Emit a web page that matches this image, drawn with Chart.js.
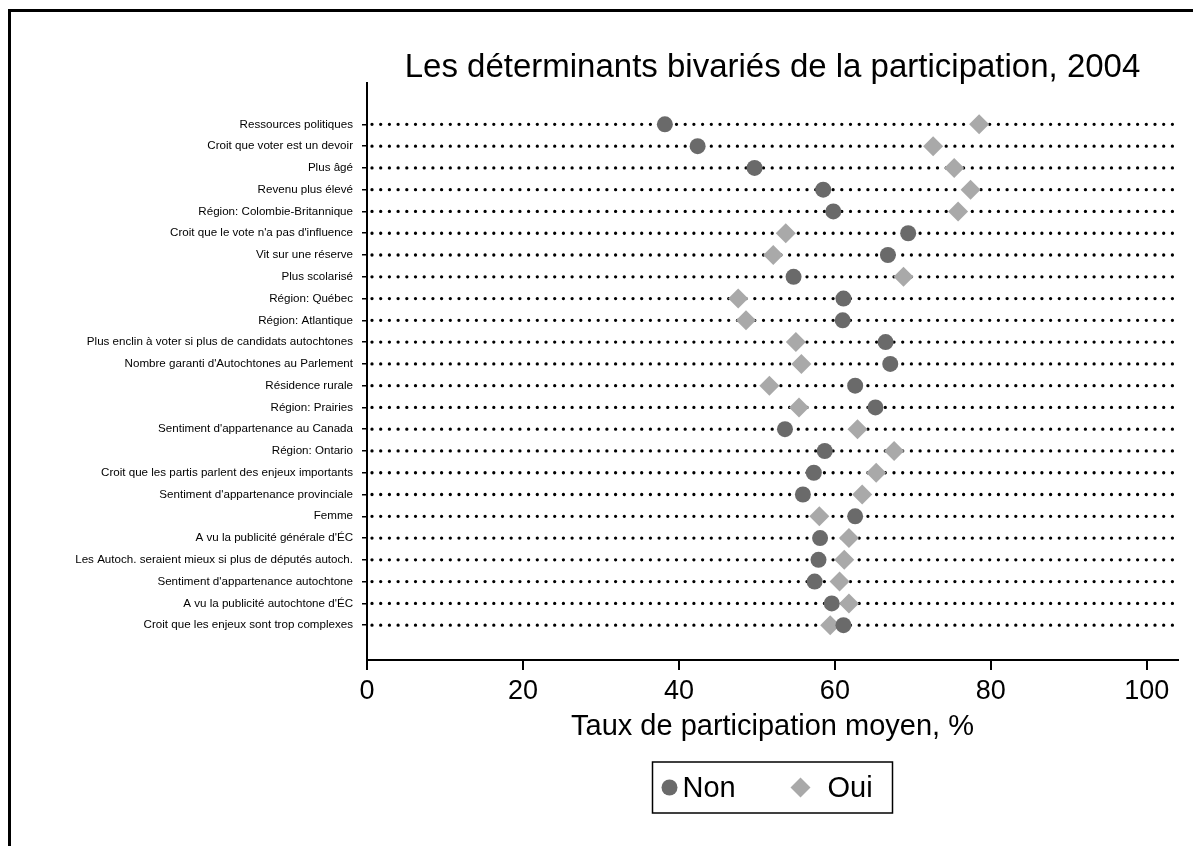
<!DOCTYPE html>
<html>
<head>
<meta charset="utf-8">
<script src="https://cdn.jsdelivr.net/npm/chart.js@4.4.0/dist/chart.umd.min.js"></script>
<style>
  html, body { margin: 0; padding: 0; background: #fff; }
  #wrap { position: relative; width: 1193px; height: 846px; overflow: hidden; }
  #frame { position: absolute; left: 8px; top: 9px; right: -10px; bottom: -10px; border-left: 3px solid #000; border-top: 3px solid #000; pointer-events: none; }
  canvas { position: absolute; left: 0; top: 0; }
</style>
</head>
<body>
<div id="wrap">
  <canvas id="dotChart" width="1193" height="846"></canvas>
  <div id="frame"></div>
</div>
<script>
// Chart data
const categories = [
  'Ressources politiques',
  'Croit que voter est un devoir',
  'Plus âgé',
  'Revenu plus élevé',
  'Région: Colombie-Britannique',
  "Croit que le vote n'a pas d'influence",
  'Vit sur une réserve',
  'Plus scolarisé',
  'Région: Québec',
  'Région: Atlantique',
  'Plus enclin à voter si plus de candidats autochtones',
  "Nombre garanti d'Autochtones au Parlement",
  'Résidence rurale',
  'Région: Prairies',
  "Sentiment d'appartenance au Canada",
  'Région: Ontario',
  'Croit que les partis parlent des enjeux importants',
  "Sentiment d'appartenance provinciale",
  'Femme',
  "A vu la publicité générale d'ÉC",
  'Les Autoch. seraient mieux si plus de députés autoch.',
  "Sentiment d'appartenance autochtone",
  "A vu la publicité autochtone d'ÉC",
  'Croit que les enjeux sont trop complexes'
];
const nonValues = [38.2, 42.4, 49.7, 58.5, 59.8, 69.4, 66.8, 54.7, 61.1, 61.0, 66.5, 67.1,
                   62.6, 65.2, 53.6, 58.7, 57.3, 55.9, 62.6, 58.1, 57.9, 57.4, 59.6, 61.1];
const ouiValues = [78.5, 72.6, 75.3, 77.4, 75.8, 53.7, 52.1, 68.8, 47.6, 48.6, 55.0, 55.7,
                   51.6, 55.4, 62.9, 67.6, 65.3, 63.5, 58.0, 61.8, 61.2, 60.6, 61.8, 59.4];
const xTicks = [0, 20, 40, 60, 80, 100];
const seriesLabels = ['Non', 'Oui'];
const titleText = 'Les déterminants bivariés de la participation, 2004';
const xTitle = 'Taux de participation moyen, %';

const FONT = "'Liberation Sans', Arial, Helvetica, sans-serif";
const NON_COLOR = '#6a6a6a';
const OUI_COLOR = '#a9a9a9';

// dotted guide line for every category
const dottedRows = {
  id: 'dottedRows',
  beforeDatasetsDraw(chart) {
    const { ctx, chartArea, scales } = chart;
    ctx.save();
    ctx.strokeStyle = '#000';
    ctx.lineWidth = 3.3;
    ctx.lineCap = 'round';
    ctx.setLineDash([0, 8.7]);
    categories.forEach((c, i) => {
      const y = scales.y.getPixelForValue(i);
      ctx.beginPath();
      ctx.moveTo(chartArea.left + 5, y);
      ctx.lineTo(chartArea.right, y);
      ctx.stroke();
    });
    ctx.restore();
  }
};

// title and boxed legend centred over the plot area
const titleAndLegend = {
  id: 'titleAndLegend',
  afterDraw(chart) {
    const { ctx, chartArea } = chart;
    const cx = (chartArea.left + chartArea.right) / 2;
    ctx.save();
    ctx.fillStyle = '#000';
    ctx.font = '33px ' + FONT;
    ctx.textAlign = 'center';
    ctx.textBaseline = 'alphabetic';
    ctx.fillText(titleText, cx, 77);

    // legend box
    const boxW = 240, boxH = 51, boxTop = 762;
    ctx.strokeStyle = '#000';
    ctx.lineWidth = 1.5;
    ctx.strokeRect(cx - boxW / 2, boxTop, boxW, boxH);
    const my = boxTop + boxH / 2;
    const ds = chart.data.datasets;

    ctx.fillStyle = ds[0].backgroundColor;
    ctx.beginPath();
    ctx.arc(cx - 103, my, 8, 0, Math.PI * 2);
    ctx.fill();

    ctx.fillStyle = ds[1].backgroundColor;
    ctx.beginPath();
    ctx.moveTo(cx + 28, my - 10);
    ctx.lineTo(cx + 38, my);
    ctx.lineTo(cx + 28, my + 10);
    ctx.lineTo(cx + 18, my);
    ctx.closePath();
    ctx.fill();

    ctx.fillStyle = '#000';
    ctx.font = '29px ' + FONT;
    ctx.textAlign = 'left';
    ctx.textBaseline = 'middle';
    ctx.fillText(ds[0].label, cx - 90, my + 1);
    ctx.fillText(ds[1].label, cx + 55, my + 1);
    ctx.restore();
  }
};

document.addEventListener('DOMContentLoaded', () => {
  const ctx = document.getElementById('dotChart').getContext('2d');

  new Chart(ctx, {
    type: 'scatter',
    data: {
      datasets: [
        {
          label: seriesLabels[0],
          data: nonValues.map((v, i) => ({ x: v, y: i })),
          backgroundColor: NON_COLOR,
          borderWidth: 0,
          pointStyle: 'circle',
          pointRadius: 8
        },
        {
          label: seriesLabels[1],
          data: ouiValues.map((v, i) => ({ x: v, y: i })),
          backgroundColor: OUI_COLOR,
          borderWidth: 0,
          pointStyle: 'rectRot',
          pointRadius: 10
        }
      ]
    },
    options: {
      responsive: false,
      animation: false,
      layout: { padding: { left: 0, right: 15, top: 83, bottom: 102 } },
      plugins: {
        legend: { display: false },
        title: { display: false },
        tooltip: { enabled: false }
      },
      scales: {
        x: {
          type: 'linear',
          min: 0,
          max: 104,
          afterBuildTicks: s => { s.ticks = xTicks.map(v => ({ value: v })); },
          afterFit: s => { s.height = 84; },
          grid: { drawOnChartArea: false, color: '#000', lineWidth: 2, tickLength: 10 },
          border: { color: '#000', width: 2 },
          ticks: { color: '#000', font: { size: 27, family: FONT }, padding: 5, maxRotation: 0 },
          title: { display: true, text: xTitle, color: '#000', font: { size: 29, family: FONT }, padding: 0 }
        },
        y: {
          type: 'linear',
          reverse: true,
          min: -1.9,
          max: 24.6,
          afterBuildTicks: s => { s.ticks = categories.map((c, i) => ({ value: i })); },
          afterFit: s => { s.width = 367; },
          grid: { drawOnChartArea: false, color: '#000', lineWidth: 1.5, tickLength: 5 },
          border: { color: '#000', width: 2 },
          ticks: {
            autoSkip: false,
            color: '#000',
            font: { size: 11.6, family: FONT },
            padding: 9,
            callback: v => categories[v]
          }
        }
      }
    },
    plugins: [dottedRows, titleAndLegend]
  });
});
</script>
</body>
</html>
